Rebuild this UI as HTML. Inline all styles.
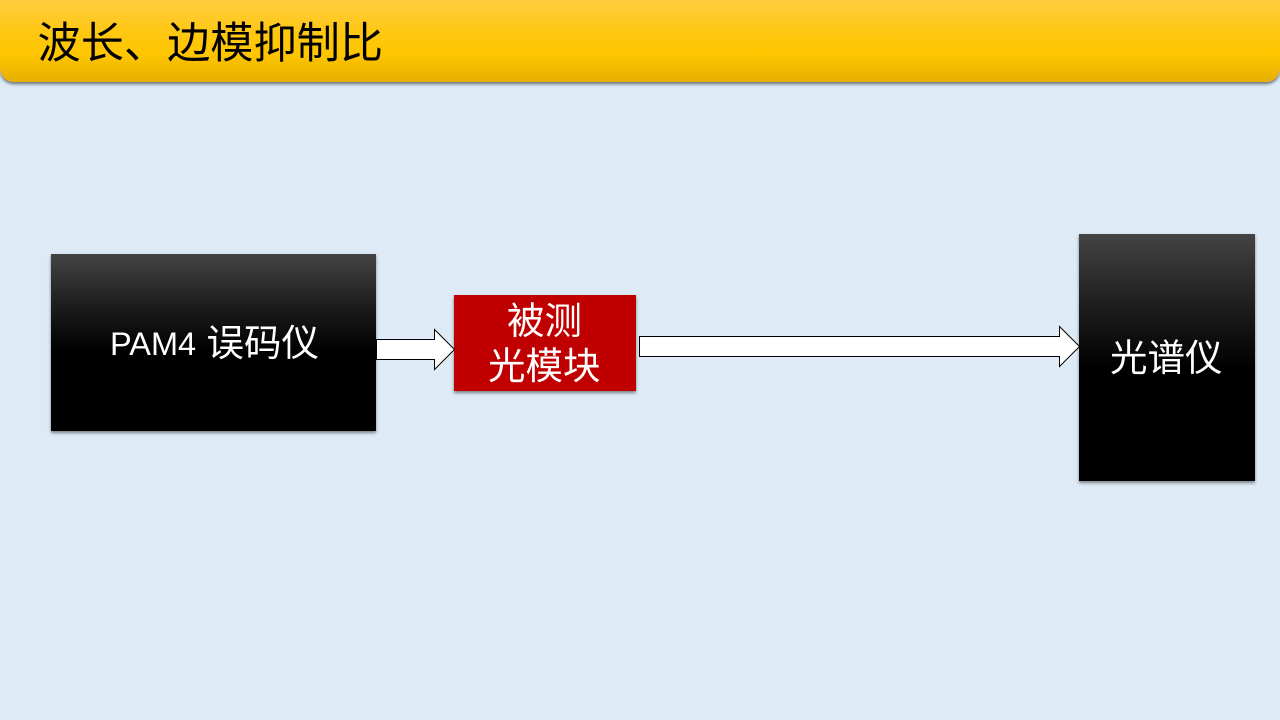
<!DOCTYPE html>
<html><head><meta charset="utf-8">
<style>
html,body{margin:0;padding:0;width:1280px;height:720px;overflow:hidden;background:#deeaf6;}
.t{position:absolute;white-space:nowrap;font-family:"Liberation Sans","Noto Sans CJK SC",sans-serif;line-height:1;}
.box{position:absolute;box-shadow:0 2px 3px rgba(0,0,0,.45);}
.blk{background:linear-gradient(to bottom,#444 0%,#1c1c1c 30%,#000 55%,#000 100%);}
</style></head><body>
<div style="position:absolute;left:0;top:-10px;width:1280px;height:92px;border-radius:0 0 14px 14px;background:linear-gradient(to bottom,#ffcf4c 0%,#ffc70e 50%,#ffc600 70%,#e6ae00 100%);box-shadow:0 2px 3px rgba(0,0,0,.55);"></div>
<div class="t" style="left:37.5px;top:23px;font-size:43.2px;color:#000;">波长、边模抑制比</div>

<div class="box blk" style="left:51px;top:254px;width:325px;height:177px;"></div>
<div class="t" style="left:110px;top:328px;font-size:32.5px;color:#fff;">PAM4</div>
<div class="t" style="left:206.5px;top:325px;font-size:37.5px;color:#fff;">误码仪</div>

<div class="box" style="left:454px;top:295px;width:182px;height:96px;background:#c00000;"></div>
<div class="t" style="left:507px;top:303px;font-size:37.5px;color:#fff;">被测</div>
<div class="t" style="left:488px;top:348px;font-size:37.5px;color:#fff;">光模块</div>

<div class="box blk" style="left:1079px;top:234px;width:176px;height:247px;"></div>
<div class="t" style="left:1110px;top:340px;font-size:37.5px;color:#fff;">光谱仪</div>

<svg width="1280" height="720" style="position:absolute;left:0;top:0;">
<polygon points="376.5,339.5 434.5,339.5 434.5,329.5 454.5,349.5 434.5,369.5 434.5,359.5 376.5,359.5" fill="#fff" stroke="#000" stroke-width="1"/>
<polygon points="639.5,336.5 1059.5,336.5 1059.5,326.5 1079.5,346.5 1059.5,366.5 1059.5,356.5 639.5,356.5" fill="#fff" stroke="#000" stroke-width="1"/>
</svg>
</body></html>
